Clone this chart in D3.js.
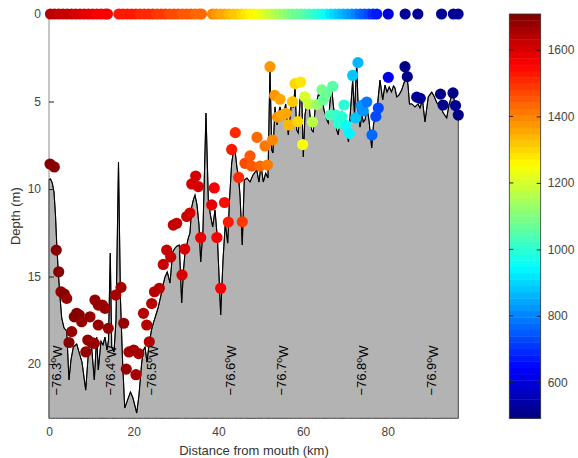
<!DOCTYPE html>
<html>
<head>
<meta charset="utf-8">
<script src="https://cdn.jsdelivr.net/npm/d3@7"></script>
<style>
body{margin:0;background:#fff;}
text{font-family:"Liberation Sans",Arial,Helvetica,sans-serif;}
</style>
</head>
<body>
<svg id="chart" width="578" height="458"></svg>
<script>
// bottom profile along the channel (km from mouth, depth m)
var profKm = [0, 0.35, 0.78, 1.18, 1.53, 1.89, 2.24, 2.60, 3.00, 3.54,
	4.18, 4.72, 5.19, 5.74, 6.54, 7.08, 7.79, 8.67, 9.28, 10.08,
	10.70, 11.26, 11.64, 12.28, 12.75, 13.22, 13.70, 14.05, 14.47, 14.81,
	15.35, 15.82, 16.41, 16.88, 17.36, 17.88, 18.54, 19.24, 19.83, 20.71,
	21.25, 21.89, 22.31, 22.67, 23.14, 23.61, 24.20, 24.63, 25.03, 25.81,
	26.45, 26.92, 27.39, 27.93, 28.57, 29.21, 29.75, 30.22, 30.77, 31.33,
	31.76, 32.11, 32.89, 33.29, 33.70, 34.07, 34.47, 34.95, 35.42, 35.82,
	36.36, 37.07, 37.62, 38.13, 38.65, 39.20, 39.79, 40.54, 41.09, 41.63,
	42.20, 42.62, 43.14, 43.52, 43.92, 44.39, 44.75, 45.10, 45.64, 46.11,
	46.75, 47.46, 48.17, 49.04, 49.59, 50.06, 50.60, 51.17, 51.71, 52.18,
	52.59, 52.89, 53.36, 53.84, 54.14, 54.55, 55.25, 55.89, 56.51, 57.31,
	57.69, 58.09, 58.49, 58.87, 59.27, 59.67, 60.05, 60.45, 60.80, 61.23,
	61.63, 62.03, 62.41, 62.81, 63.45, 63.75, 64.11, 64.46, 64.94, 65.41,
	65.95, 66.40, 66.75, 67.13, 67.53, 67.93, 68.31, 68.71, 69.18, 69.66,
	70.30, 70.72, 71.24, 71.71, 72.14, 72.66, 73.03, 73.44, 73.91, 74.22,
	74.62, 75.09, 75.56, 76.20, 76.62, 76.98, 77.45, 78.16, 78.80, 79.34,
	79.81, 80.35, 80.87, 81.35, 81.70, 82.10, 82.64, 83.28, 83.83, 84.46,
	84.77, 85.12, 85.71, 86.42, 87.13, 87.60, 88.19, 88.78, 89.56, 90.37,
	90.91, 91.62, 92.33, 93.11, 93.91, 94.45, 94.92, 95.47, 96.27, 96.65];
var profDepth = [9.46, 9.43, 9.66, 10.17, 11.49, 13.49, 14.91, 16.17, 17.37, 17.94,
	18.11, 20.91, 19.77, 19.03, 18.86, 19.31, 19.89, 21.49, 19.43, 19.09,
	20.91, 18.46, 20.34, 18.69, 18.91, 18.46, 19.20, 18.63, 13.66, 19.03,
	19.31, 17.49, 8.46, 16.34, 19.77, 22.51, 22.06, 21.60, 21.94, 22.80,
	21.77, 19.94, 19.20, 19.03, 19.89, 18.91, 18.06, 17.66, 17.37, 16.74,
	16.06, 15.49, 15.03, 14.74, 15.37, 13.60, 13.37, 13.26, 13.20, 16.51,
	14.63, 13.66, 12.80, 12.51, 11.03, 10.63, 10.34, 10.91, 12.06, 14.17,
	12.34, 5.66, 10.63, 11.49, 12.17, 11.20, 12.91, 17.20, 14.06, 11.94,
	13.09, 10.63, 8.51, 7.89, 7.77, 8.80, 9.31, 10.34, 13.20, 9.49,
	9.37, 9.60, 9.20, 8.91, 9.60, 8.63, 9.60, 9.09, 9.37, 3.09,
	7.77, 7.94, 5.31, 6.34, 5.77, 5.31, 5.94, 5.14, 6.91, 4.91,
	5.37, 4.23, 6.63, 6.80, 4.91, 4.51, 8.17, 5.77, 5.20, 4.74,
	5.77, 6.63, 6.74, 5.49, 4.74, 4.46, 5.31, 4.80, 5.49, 5.94,
	6.23, 4.91, 4.23, 5.20, 5.94, 6.63, 6.91, 5.94, 5.60, 6.17,
	6.63, 7.31, 5.37, 3.77, 5.77, 2.74, 5.60, 6.46, 5.77, 6.17,
	6.06, 5.37, 6.06, 7.66, 6.34, 5.89, 5.49, 3.77, 4.91, 4.06,
	4.46, 4.17, 4.46, 4.11, 4.23, 4.74, 4.63, 4.34, 3.94, 3.54,
	4.06, 5.14, 5.14, 5.31, 5.14, 5.37, 4.91, 6.17, 4.74, 4.46,
	4.69, 5.09, 5.26, 5.66, 5.94, 5.20, 4.80, 4.63, 5.77, 6.11];

// samples at depth
var castKm = [0.24, 1.25, 1.72, 2.29, 2.83, 3.61, 4.18, 4.72, 5.36, 5.97,
	6.54, 7.15, 7.72, 8.69, 9.16, 9.68, 10.08, 10.70, 10.86, 11.64,
	12.59, 13.22, 11.64, 14.00, 15.75, 17.00, 17.64, 18.25, 18.89, 20.00,
	21.18, 20.54, 22.31, 23.07, 23.68, 24.25, 24.91, 26.05, 26.99, 27.79,
	28.74, 29.35, 30.15, 31.41, 32.04, 32.52, 33.29, 33.70, 34.64, 35.25,
	35.82, 38.42, 39.03, 39.65, 40.54, 41.44, 42.34, 43.14, 43.99, 44.79,
	45.64, 46.28, 47.46, 47.86, 49.12, 49.82, 51.00, 51.59, 52.78, 52.18,
	53.30, 54.55, 53.96, 55.07, 55.96, 56.60, 57.50, 58.09, 59.43, 58.75,
	59.91, 60.45, 61.32, 62.22, 63.28, 64.46, 65.57, 64.77, 66.99, 66.35,
	67.77, 68.31, 69.12, 69.66, 70.20, 70.91, 71.71, 72.96, 72.42, 73.74,
	74.22, 75.02, 76.27, 77.17, 77.76, 80.12, 84.06, 84.61, 86.83, 87.68,
	92.45, 95.40, 93.04, 95.99, 96.65];
var castDepth = [8.57, 8.74, 13.49, 14.73, 15.87, 16.00, 16.25, 18.77, 18.15, 17.30,
	17.10, 17.20, 17.58, 19.31, 18.63, 17.30, 18.78, 18.82, 16.34, 16.63,
	16.63, 16.82, 17.77, 17.96, 16.06, 15.62, 17.67, 20.29, 19.31, 19.20,
	19.40, 20.61, 17.10, 17.77, 18.73, 16.54, 15.87, 15.67, 14.31, 13.49,
	13.89, 12.06, 11.96, 14.91, 13.43, 11.57, 11.37, 9.71, 9.26, 9.86,
	12.78, 10.91, 9.94, 12.77, 15.67, 10.77, 11.89, 7.74, 6.78, 9.34,
	11.87, 8.53, 8.11, 8.69, 7.05, 8.69, 7.54, 8.63, 7.20, 3.01,
	4.65, 4.87, 5.89, 5.77, 5.67, 6.34, 5.01, 3.98, 3.89, 6.15,
	7.46, 4.74, 5.14, 6.17, 5.18, 4.34, 4.50, 4.91, 4.13, 5.77,
	5.77, 6.25, 5.87, 5.20, 6.37, 6.82, 3.51, 2.78, 5.94, 5.23,
	5.54, 5.03, 6.91, 5.85, 5.37, 3.62, 3.01, 3.58, 4.75, 4.82,
	4.58, 4.51, 5.20, 5.23, 5.77];
var castVal = [1690, 1690, 1690, 1690, 1685, 1690, 1685, 1690, 1680, 1690,
	1695, 1690, 1685, 1680, 1680, 1685, 1675, 1680, 1675, 1680,
	1680, 1685, 1680, 1680, 1665, 1665, 1670, 1670, 1665, 1665,
	1665, 1665, 1650, 1650, 1645, 1640, 1640, 1635, 1630, 1630,
	1625, 1620, 1620, 1610, 1610, 1615, 1610, 1600, 1595, 1600,
	1590, 1575, 1570, 1565, 1560, 1545, 1530, 1520, 1500, 1510,
	1495, 1470, 1450, 1460, 1440, 1440, 1420, 1420, 1400, 1380,
	1370, 1365, 1370, 1360, 1355, 1340, 1310, 1290, 1280, 1300,
	1250, 1210, 1185, 1170, 1120, 1090, 1075, 1080, 1050, 1030,
	1020, 1000, 995, 995, 950, 930, 875, 870, 880, 830,
	820, 790, 760, 735, 725, 620, 510, 510, 515, 515,
	510, 510, 510, 515, 510];

// surface samples (drawn at depth 0)
var surfKm = [0.35, 1.3, 2.3, 3.3, 4.3, 5.3, 6.3, 7.3, 8.3, 9.3, 10.3, 11.3, 12.3, 13.3, 13.8,
	16.5, 17.5, 18.5, 19.5, 20.5, 21.5, 22.5, 23.5, 24.5, 25.5, 26.5, 27.5, 28.5, 29.5, 30.5,
	31.5, 32.5, 33.5, 34.5, 35.5, 36.0,
	38.6, 39.5, 40.5, 41.5, 42.5, 43.5, 44.5, 45.5, 46.5, 47.5, 48.5, 49.5, 50.5, 51.5, 52.5,
	53.5, 54.5, 55.5, 56.5, 57.5, 58.5, 59.5, 60.5, 61.5, 62.5, 63.5, 64.5, 65.5, 66.5, 67.5,
	68.5, 69.5, 70.5, 71.5, 72.5, 73.5, 74.5, 75.5, 76.5, 77.4,
	80.1, 84.1, 87.1, 92.7, 95.5, 96.6];
var surfVal = [1640, 1636, 1631, 1626, 1620, 1613, 1606, 1599, 1592, 1585, 1578, 1571, 1565, 1559, 1556,
	1535, 1531, 1527, 1523, 1519, 1515, 1510, 1505, 1500, 1495, 1490, 1484, 1478, 1472, 1466,
	1460, 1453, 1446, 1439, 1432, 1428,
	1385, 1375, 1363, 1351, 1338, 1325, 1312, 1298, 1284, 1269, 1254, 1238, 1222, 1205, 1188,
	1170, 1152, 1134, 1116, 1098, 1080, 1062, 1044, 1026, 1007, 988, 968, 948, 928, 907,
	886, 864, 842, 820, 797, 774, 750, 725, 698, 670,
	605, 520, 520, 515, 515, 515];

// longitude marks along the channel
var lonKm = [1.65, 14.4, 24.25, 42.74, 54.95, 73.84, 90.37];
var lonLabels = ['\u221276.3', '\u221276.4', '\u221276.5', '\u221276.6', '\u221276.7', '\u221276.8', '\u221276.9'];

var distTicks = [0, 20, 40, 60, 80];
var depthTicks = [0, 5, 10, 15, 20];
var cbTicks = [600, 800, 1000, 1200, 1400, 1600];

var cmin = 492, cmax = 1708;
var maxKm = 96.65, maxDepth = 23.1;

var svg = d3.select('#chart');
var x = d3.scaleLinear().domain([0, maxKm]).range([49, 458.3]);
var y = d3.scaleLinear().domain([0, maxDepth]).range([14, 418.3]);
var cb = d3.scaleLinear().domain([cmin, cmax]).range([418.3, 14]);

// matlab-ish jet, 64 steps
function jet(v){
	var t = (v - cmin)/(cmax - cmin);
	var k = Math.min(63, Math.max(0, Math.floor(t*64)));
	t = (k + 0.5)/64;
	function ch(d){ return Math.round(255*Math.max(0, Math.min(1, 1.5 - Math.abs(4*t - d)))); }
	return 'rgb(' + ch(3) + ',' + ch(2) + ',' + ch(1) + ')';
}

// left axis line
svg.append('line')
	.attr('x1', x(0)).attr('x2', x(0))
	.attr('y1', y(0)).attr('y2', y(maxDepth))
	.attr('stroke', '#8c8c8c').attr('stroke-width', 1);

// bottom fill
var prof = profKm.map(function(k, i){ return [k, profDepth[i]]; });
var area = d3.area()
	.x(function(d){ return x(d[0]); })
	.y0(y(maxDepth))
	.y1(function(d){ return y(d[1]); });
svg.append('path')
	.attr('d', area(prof) + 'Z')
	.attr('fill', '#b3b3b3')
	.attr('stroke', '#404040')
	.attr('stroke-width', 1);

var line = d3.line()
	.x(function(d){ return x(d[0]); })
	.y(function(d){ return y(d[1]); });
svg.append('path')
	.attr('d', line(prof))
	.attr('fill', 'none')
	.attr('stroke', '#000')
	.attr('stroke-width', 1.1)
	.attr('stroke-linejoin', 'miter');

// y axis
var yAxis = d3.axisLeft(y).tickValues(depthTicks).tickSize(-5).tickPadding(8);
var gy = svg.append('g').attr('transform', 'translate(' + x(0) + ',0)').call(yAxis);
gy.select('.domain').remove();
gy.selectAll('.tick line').attr('stroke', '#222');
gy.selectAll('.tick text').attr('fill', '#444').style('font-size', '12px')
	.style('font-family', '"Liberation Sans",Arial,sans-serif');

// x axis
var xAxis = d3.axisBottom(x).tickValues(distTicks).tickSize(0).tickPadding(9);
var gx = svg.append('g').attr('transform', 'translate(0,' + y(maxDepth) + ')').call(xAxis);
gx.select('.domain').remove();
gx.selectAll('.tick text').attr('fill', '#444').style('font-size', '12px')
	.style('font-family', '"Liberation Sans",Arial,sans-serif');

// samples
var casts = castKm.map(function(k, i){ return {k: k, d: castDepth[i], v: castVal[i]}; });
svg.append('g').selectAll('circle').data(casts).enter().append('circle')
	.attr('cx', function(d){ return x(d.k); })
	.attr('cy', function(d){ return y(d.d); })
	.attr('r', 5.6)
	.attr('fill', function(d){ return jet(d.v); });

var surf = surfKm.map(function(k, i){ return {k: k, v: surfVal[i]}; });
svg.append('g').selectAll('circle').data(surf).enter().append('circle')
	.attr('cx', function(d){ return x(d.k); })
	.attr('cy', y(0))
	.attr('r', 5.6)
	.attr('fill', function(d){ return jet(d.v); });

// longitude labels, rotated
var labelDepth = 21.8;
lonKm.forEach(function(k, i){
	var px = x(k), py = y(labelDepth);
	var t = svg.append('text')
		.attr('transform', 'translate(' + px + ',' + py + ') rotate(-90)')
		.attr('dy', '0.35em')
		.attr('fill', '#000')
		.style('font-size', '13px');
	t.append('tspan').text(lonLabels[i]);
	t.append('tspan').attr('dy', '-0.45em').style('font-size', '9px').text('o');
	t.append('tspan').attr('dy', '0.45em').text('W');
});

// axis titles
svg.append('text')
	.attr('x', 254).attr('y', 455)
	.attr('text-anchor', 'middle')
	.attr('fill', '#333')
	.style('font-size', '13px')
	.text('Distance from mouth (km)');
svg.append('text')
	.attr('transform', 'translate(20,' + y(maxDepth/2) + ') rotate(-90)')
	.attr('text-anchor', 'middle')
	.attr('fill', '#333')
	.style('font-size', '13px')
	.text('Depth (m)');

// colorbar
var cbX = 509.3, cbW = 31.4;
var steps = d3.range(64);
var stepH = (cb(cmin) - cb(cmax))/64;
svg.append('g').selectAll('rect').data(steps).enter().append('rect')
	.attr('x', cbX)
	.attr('y', function(i){ return cb(cmin) - (i + 1)*stepH; })
	.attr('width', cbW)
	.attr('height', stepH + 0.4)
	.attr('fill', function(i){ return jet(cmin + (i + 0.5)*(cmax - cmin)/64); });
svg.append('rect')
	.attr('x', cbX).attr('y', cb(cmax))
	.attr('width', cbW).attr('height', cb(cmin) - cb(cmax))
	.attr('fill', 'none').attr('stroke', '#333').attr('stroke-width', 0.8);

var cAxis = d3.axisRight(cb).tickValues(cbTicks).tickFormat(d3.format('d')).tickSize(-4).tickPadding(7);
var gc = svg.append('g').attr('transform', 'translate(' + (cbX + cbW) + ',0)').call(cAxis);
gc.select('.domain').remove();
gc.selectAll('.tick line').attr('stroke', '#222');
gc.selectAll('.tick text').attr('fill', '#444').style('font-size', '12px')
	.style('font-family', '"Liberation Sans",Arial,sans-serif');
svg.append('g').selectAll('line').data(cbTicks).enter().append('line')
	.attr('x1', cbX).attr('x2', cbX + 4)
	.attr('y1', function(v){ return cb(v); })
	.attr('y2', function(v){ return cb(v); })
	.attr('stroke', '#222');
</script>
</body>
</html>
